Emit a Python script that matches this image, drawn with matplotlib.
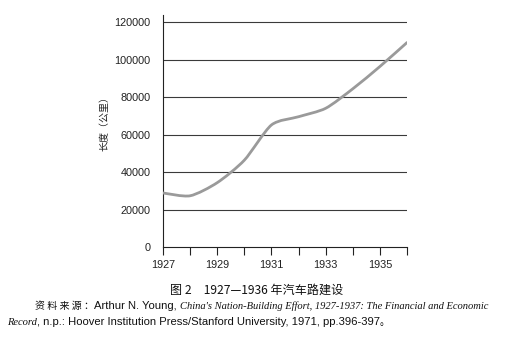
import matplotlib
matplotlib.use("Agg")
import matplotlib.pyplot as plt
from matplotlib.path import Path
from matplotlib.patches import PathPatch
import numpy as np

# Highway length built, 1927-1936 (km)
years = [1927, 1928, 1929, 1930, 1931, 1932, 1933, 1934, 1935, 1936]
length_km = [29000, 27500, 34500, 46500, 65300, 69700, 74200, 84600, 96500, 109300]
tick_labels = ["1927", "", "1929", "", "1931", "", "1933", "", "1935", ""]
y_ticks = [0, 20000, 40000, 60000, 80000, 100000, 120000]

CJK = ["Noto Sans CJK SC", "DejaVu Sans"]
SANS = ["Liberation Sans", "Noto Sans CJK SC"]
SERIF_IT = "Liberation Serif"

W, H = 519, 337
fig = plt.figure(figsize=(W / 100, H / 100), dpi=100)
ax = fig.add_axes([163 / W, 1 - 247.3 / H, (407 - 163) / W, (247.3 - 15) / H])

# smooth curve through the points (cubic Bezier with short tangent handles)
x = np.asarray(years, float)
y = np.asarray(length_km, float)
k = 1 / 8
verts = [(x[0], y[0])]
codes = [Path.MOVETO]
n = len(x)
for i in range(n - 1):
    xm, ym = (x[i - 1], y[i - 1]) if i > 0 else (x[i], y[i])
    xp, yp = (x[i + 2], y[i + 2]) if i + 2 < n else (x[i + 1], y[i + 1])
    c1 = (x[i] + (x[i + 1] - xm) * k, y[i] + (y[i + 1] - ym) * k)
    c2 = (x[i + 1] - (xp - x[i]) * k, y[i + 1] - (yp - y[i]) * k)
    verts += [c1, c2, (x[i + 1], y[i + 1])]
    codes += [Path.CURVE4] * 3
ax.add_patch(PathPatch(Path(verts, codes), facecolor="none", edgecolor="#9a9a9a",
                       lw=2.0, capstyle="round", joinstyle="round", zorder=3))

ax.set_xlim(1927, 1936)
ax.set_ylim(0, 124000)
for v in y_ticks[1:]:
    ax.axhline(v, color="#3a3a3a", lw=0.8, zorder=1)

for s in ["top", "right"]:
    ax.spines[s].set_visible(False)
for s in ["left", "bottom"]:
    ax.spines[s].set_color("#222222")
    ax.spines[s].set_linewidth(0.8)

ax.set_xticks(years)
ax.set_xticklabels(tick_labels, fontfamily=SANS, fontsize=7.8, color="#222222")
ax.tick_params(axis="x", direction="out", length=5.5, width=0.8, color="#222222", pad=4)
ax.set_yticks(y_ticks)
ax.set_yticklabels([str(v) for v in y_ticks], fontfamily=SANS, fontsize=7.8, color="#222222")
ax.tick_params(axis="y", length=0, pad=9)

fig.text(104 / W, 1 - 121 / H, "长度（公里）", rotation=90, ha="center", va="center",
         family=CJK, fontsize=7.2, color="#222222")

fig.text(257 / W, 1 - 290 / H, "图 2　1927—1936 年汽车路建设", ha="center", va="center",
         family=CJK, fontsize=8.7, color="#111111")

# source note, assembled from upright and italic pieces
fig.canvas.draw()
renderer = fig.canvas.get_renderer()


def run_line(pieces, x0, y_base):
    xp = x0
    for txt, kw in pieces:
        t = fig.text(xp / W, 1 - y_base / H, txt, va="baseline", ha="left",
                     fontsize=kw["size"], color="#111111", **kw["font"])
        xp += t.get_window_extent(renderer).width


upright_cjk = {"font": {"family": CJK}, "size": 7.2}
upright = {"font": {"family": SANS}, "size": 8.1}
italic = {"font": {"family": SERIF_IT, "style": "italic"}, "size": 7.6}

run_line([
    ("资 料 来 源 ：", upright_cjk),
    ("Arthur N. Young, ", upright),
    ("China's Nation-Building Effort, 1927-1937: The Financial and Economic", italic),
], 35, 309)
run_line([
    ("Record", italic),
    (", n.p.: Hoover Institution Press/Stanford University, 1971, pp.396-397", upright),
    ("。", upright_cjk),
], 7, 325)

fig.savefig("out.png", dpi=100)
